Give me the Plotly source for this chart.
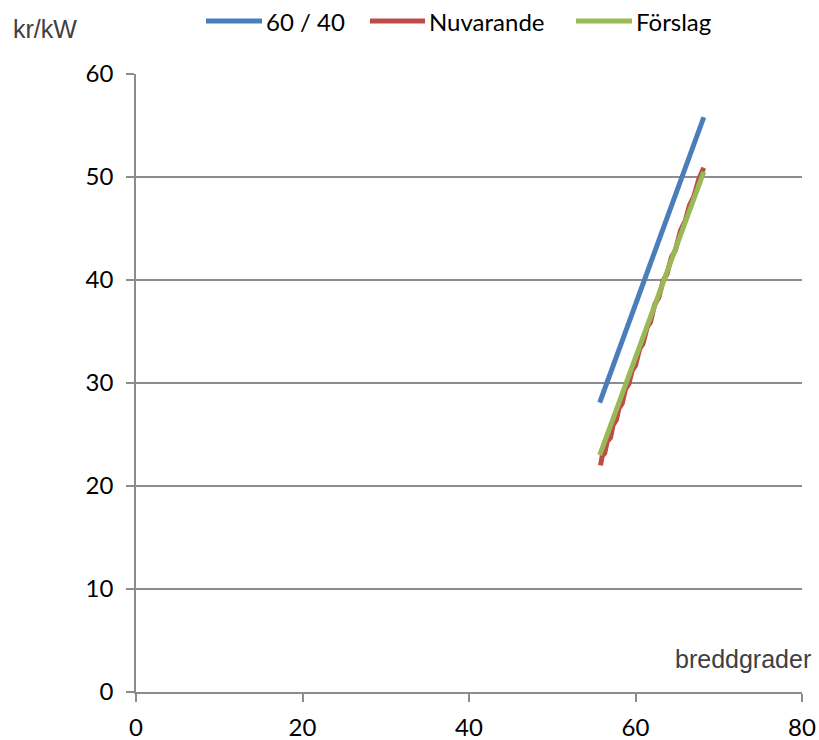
import plotly.graph_objects as go

# Data
blue_x = [55.7, 68.2]
blue_y = [28.1, 55.8]

green_x = [55.7, 68.2]
green_y = [23.0, 50.5]

red_x = [55.8, 56.0, 56.3, 56.6, 57.0, 57.3, 57.7, 58.0, 58.4, 58.8, 59.2, 59.6, 60.0,
         60.5, 60.9, 61.4, 61.8, 62.3, 62.8, 63.3, 63.8, 64.3, 64.8, 65.4, 66.0, 66.5,
         67.0, 67.6, 68.2]
red_y = [22.0, 22.9, 23.2, 24.3, 24.7, 25.9, 26.4, 27.5, 28.0, 29.4, 29.9, 31.2, 31.7,
         33.3, 33.8, 35.4, 35.9, 37.6, 38.3, 39.9, 40.6, 42.2, 42.9, 44.8, 45.8, 47.3,
         48.1, 49.8, 50.9]

series_names = ["60 / 40", "Nuvarande", "Förslag"]
series_colors = ["#4a7ebb", "#be4b48", "#98b954"]
x_ticks = [0, 20, 40, 60, 80]
y_ticks = [0, 10, 20, 30, 40, 50, 60]

FONT = "Lato"
FONT2 = "Liberation Sans"

W, H = 819, 740
ML, MR, MT, MB = 136, 17, 74, 48
PW, PH = W - ML - MR, H - MT - MB


def px(xpix):
    return (xpix - ML) / PW


def py(ypix):
    return (H - MB - ypix) / PH


fig = go.Figure()
for xs, ys, name, col in zip([blue_x, red_x, green_x], [blue_y, red_y, green_y],
                             series_names, series_colors):
    fig.add_trace(go.Scatter(x=xs, y=ys, mode="lines", name=name, showlegend=False,
                             line=dict(color=col, width=5)))

# manual legend (long swatch lines like the reference)
legend_spans = [(206, 262), (370, 425), (576, 632)]
shapes = []
annotations = []
for (a, b), name, col in zip(legend_spans, series_names, series_colors):
    shapes.append(dict(type="line", xref="paper", yref="paper", x0=px(a), x1=px(b),
                       y0=py(21), y1=py(21), line=dict(color=col, width=5)))
    annotations.append(dict(text=name, xref="paper", yref="paper", x=px(b + 2), y=py(22),
                            xanchor="left", yanchor="middle", showarrow=False,
                            font=dict(size=24, family=FONT, color="black")))

annotations.append(dict(text="kr/kW", xref="paper", yref="paper", x=px(11), y=py(29),
                        xanchor="left", yanchor="middle", showarrow=False,
                        font=dict(size=25, family=FONT2, color="#404040")))
annotations.append(dict(text="breddgrader", xref="paper", yref="paper", x=px(813), y=py(659),
                        xanchor="right", yanchor="middle", showarrow=False,
                        font=dict(size=25, family=FONT2, color="#404040")))

fig.update_layout(
    width=W, height=H,
    margin=dict(l=ML, r=MR, t=MT, b=MB, autoexpand=False),
    paper_bgcolor="white", plot_bgcolor="white",
    font=dict(family=FONT, size=24, color="black"),
    showlegend=False,
    xaxis=dict(range=[0, 80], tickvals=x_ticks, showgrid=False, zeroline=False,
               showline=True, linecolor="#8c8c8c", linewidth=1.5,
               ticks="outside", ticklen=8, tickcolor="#8c8c8c", tickwidth=1.5,
               ticklabelstandoff=5, ticklabeloverflow="allow",
               tickfont=dict(size=24, family=FONT)),
    yaxis=dict(range=[0, 60], tickvals=y_ticks, showgrid=True, gridcolor="#8c8c8c",
               gridwidth=1.5, zeroline=False,
               showline=True, linecolor="#8c8c8c", linewidth=1.5,
               ticks="outside", ticklen=8, tickcolor="#8c8c8c", tickwidth=1.5,
               ticklabelstandoff=8,
               tickfont=dict(size=24, family=FONT)),
    shapes=shapes,
    annotations=annotations,
)

# remove the default 8px page margin so the 819x740 figure fills the window exactly
fig.write_html("out.html",
               config={"displayModeBar": False},
               post_script="document.body.style.margin='0';document.body.style.overflow='hidden';")
